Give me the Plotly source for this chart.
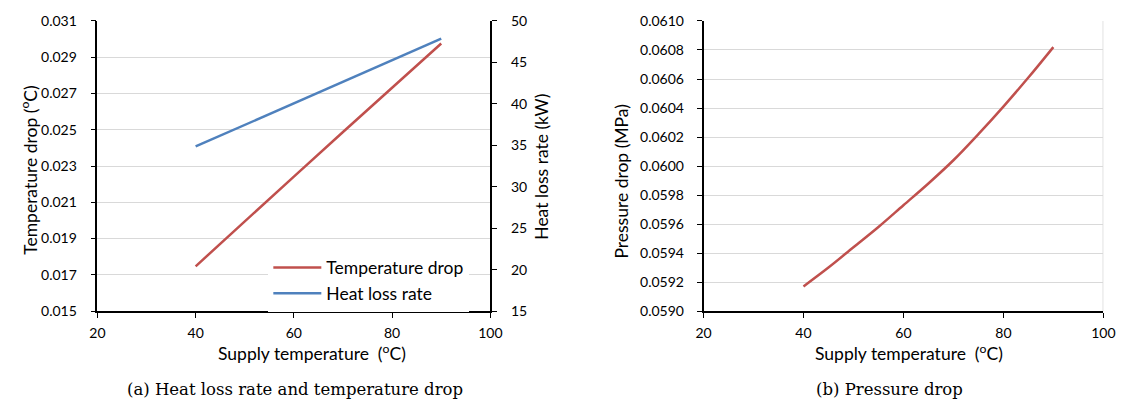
import plotly.graph_objects as go

# ---------------- data ----------------
supply_temp = [40, 50, 60, 70, 80, 90]
temp_drop = [0.01747, 0.01992, 0.02242, 0.02488, 0.02732, 0.02976]
heat_loss = [34.86, 37.45, 40.02, 42.66, 45.27, 47.86]

supply_temp_b = [40, 45, 50, 55, 60, 65, 70, 75, 80, 85, 90]
pressure_drop = [0.05917, 0.05930, 0.05944, 0.05958, 0.05973, 0.05988,
                 0.06004, 0.06022, 0.06041, 0.06061, 0.06082]

W, H = 1134, 415
RED = "#C0504D"
BLUE = "#4F81BD"
GRID = "#D9D9D9"
TICKFONT = dict(family="Lato", size=14, color="#000000")
TITLEFONT = dict(family="Lato", size=17.5, color="#000000")
CAPFONT = dict(family="DejaVu Serif", size=16.5, color="#000000")

def px_x(p):
    return p / W

def px_y(p):
    return 1 - p / H

fig = go.Figure()

fig.add_trace(go.Scatter(x=supply_temp, y=temp_drop, mode="lines", name="Temperature drop",
                         line=dict(color=RED, width=2.5), xaxis="x", yaxis="y"))
fig.add_trace(go.Scatter(x=supply_temp, y=heat_loss, mode="lines", name="Heat loss rate",
                         line=dict(color=BLUE, width=2.5), xaxis="x", yaxis="y2"))
fig.add_trace(go.Scatter(x=supply_temp_b, y=pressure_drop, mode="lines", name="Pressure drop",
                         line=dict(color=RED, width=2.5, shape="spline"), xaxis="x2", yaxis="y3",
                         showlegend=False))

ydom = [px_y(315), px_y(12.5)]
xcommon = dict(range=[20, 100], dtick=20, tick0=20, showgrid=False, zeroline=False,
               showline=True, linecolor="#000000", linewidth=1.5, ticks="outside",
               ticklen=5, tickcolor="#000000", tickwidth=1.2, tickfont=TICKFONT,
               ticklabelstandoff=3)

fig.update_layout(
    width=W, height=H,
    margin=dict(l=0, r=0, t=0, b=0),
    paper_bgcolor="white", plot_bgcolor="white",
    showlegend=True,
    legend=dict(x=px_x(265), y=px_y(251), xanchor="left", yanchor="top",
                bgcolor="white", font=dict(family="Lato", size=17.5, color="#000000"),
                tracegroupgap=0, itemwidth=48, borderwidth=0),
    xaxis=dict(domain=[px_x(91), px_x(491)], anchor="y", **xcommon),
    xaxis2=dict(domain=[px_x(708), px_x(1115)], anchor="y3", **xcommon),
    yaxis=dict(domain=ydom, anchor="x", range=[0.015, 0.031], dtick=0.002, tick0=0.015,
               tickformat=".3f", showgrid=True, gridcolor=GRID, gridwidth=1.2,
               zeroline=False, showline=True, linecolor="#000000", linewidth=1.5,
               ticks="outside", ticklen=5, tickcolor="#000000", tickwidth=1.2,
               tickfont=TICKFONT, ticklabelstandoff=11),
    yaxis2=dict(domain=ydom, anchor="x", overlaying="y", side="right", range=[15, 50],
                dtick=5, tick0=15, showgrid=False, zeroline=False, showline=True,
                linecolor="#000000", linewidth=1.5, ticks="outside", ticklen=5,
                tickcolor="#000000", tickwidth=1.2, tickfont=TICKFONT, ticklabelstandoff=11),
    yaxis3=dict(domain=ydom, anchor="x2", range=[0.059, 0.061], dtick=0.0002, tick0=0.059,
                tickformat=".4f", showgrid=True, gridcolor=GRID, gridwidth=1.2,
                zeroline=False, showline=True, linecolor="#000000", linewidth=1.5,
                ticks="outside", ticklen=5, tickcolor="#000000", tickwidth=1.2,
                tickfont=TICKFONT, ticklabelstandoff=10, mirror=False),
)

# right border of panel (b)
fig.add_shape(type="line", xref="x2", yref="paper", x0=100, x1=100, y0=ydom[0], y1=ydom[1],
              line=dict(color=GRID, width=1.5), layer="below")

annots = [
    dict(text="Supply temperature  (<sup>o</sup>C)", x=px_x(309), y=px_y(358), font=TITLEFONT),
    dict(text="Supply temperature  (<sup>o</sup>C)", x=px_x(917), y=px_y(358), font=TITLEFONT),
    dict(text="Temperature drop (<sup>o</sup>C)", x=px_x(21), y=px_y(168), font=TITLEFONT, textangle=-90),
    dict(text="Heat loss rate (kW)", x=px_x(543), y=px_y(164), font=TITLEFONT, textangle=-90),
    dict(text="Pressure drop (MPa)", x=px_x(625), y=px_y(180), font=TITLEFONT, textangle=-90),
    dict(text="(a) Heat loss rate and temperature drop", x=px_x(292), y=px_y(397), font=CAPFONT),
    dict(text="(b) Pressure drop", x=px_x(897), y=px_y(397), font=CAPFONT),
]
for a in annots:
    fig.add_annotation(xref="paper", yref="paper", showarrow=False,
                       xanchor="center", yanchor="middle", **a)

fig.write_html("out.html", config={"displayModeBar": False},
               post_script="document.body.style.margin='0';document.body.style.overflow='hidden';")
